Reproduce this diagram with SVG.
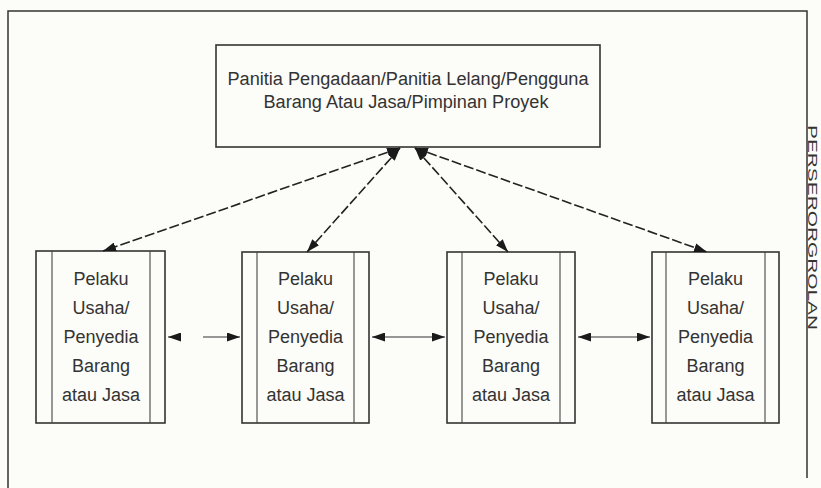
<svg xmlns="http://www.w3.org/2000/svg" width="821" height="488" viewBox="0 0 821 488">
<defs>
<marker id="ah" viewBox="0 0 13 9" refX="13" refY="4.5" markerWidth="13" markerHeight="9" markerUnits="userSpaceOnUse" orient="auto-start-reverse">
<path d="M0,0 L13,4.5 L0,9 Z" fill="#1a1a1a"/>
</marker>
</defs>
<style>
.frame{fill:none;stroke:#333;stroke-width:1.5}
.box{fill:none;stroke:#333;stroke-width:1.6}
.inner{stroke:#444;stroke-width:1.1}
.t{font-family:"Liberation Sans",Arial,sans-serif;font-size:18px;fill:#333;text-anchor:middle}
.side{font-family:"Liberation Sans",Arial,sans-serif;font-size:13px;fill:#333}
.dash{fill:none;stroke:#222;stroke-width:1.6;stroke-dasharray:10 3}
.hl{fill:none;stroke:#333;stroke-width:1}
</style>
<rect width="821" height="488" fill="#fcfcf8"/>
<g id="frame">
<path class="frame" d="M8,488 L8,11 L807,11 L807,478"/>
<text class="side" transform="translate(808,125) rotate(90)" textLength="205" lengthAdjust="spacingAndGlyphs">PERSERORGROLAN</text>
</g>
<g id="top">
<rect class="box" x="216" y="45" width="384" height="102"/>
<text class="t" x="408" y="85" textLength="361" lengthAdjust="spacingAndGlyphs">Panitia Pengadaan/Panitia Lelang/Pengguna</text>
<text class="t" x="406" y="108" textLength="285" lengthAdjust="spacingAndGlyphs">Barang Atau Jasa/Pimpinan Proyek</text>
</g>
<g id="p1">
<rect class="box" x="36" y="251" width="129" height="172"/>
<line class="inner" x1="52" y1="251" x2="52" y2="423"/>
<line class="inner" x1="150" y1="251" x2="150" y2="423"/>
<text class="t"><tspan x="101" y="285">Pelaku</tspan><tspan x="101" y="314">Usaha/</tspan><tspan x="101" y="343">Penyedia</tspan><tspan x="101" y="372">Barang</tspan><tspan x="101" y="401">atau Jasa</tspan></text>
</g>
<g id="p2">
<rect class="box" x="242" y="252" width="127" height="171"/>
<line class="inner" x1="257" y1="252" x2="257" y2="423"/>
<line class="inner" x1="354" y1="252" x2="354" y2="423"/>
<text class="t"><tspan x="305.5" y="285">Pelaku</tspan><tspan x="305.5" y="314">Usaha/</tspan><tspan x="305.5" y="343">Penyedia</tspan><tspan x="305.5" y="372">Barang</tspan><tspan x="305.5" y="401">atau Jasa</tspan></text>
</g>
<g id="p3">
<rect class="box" x="447" y="252" width="128" height="171"/>
<line class="inner" x1="462" y1="252" x2="462" y2="423"/>
<line class="inner" x1="560" y1="252" x2="560" y2="423"/>
<text class="t"><tspan x="511" y="285">Pelaku</tspan><tspan x="511" y="314">Usaha/</tspan><tspan x="511" y="343">Penyedia</tspan><tspan x="511" y="372">Barang</tspan><tspan x="511" y="401">atau Jasa</tspan></text>
</g>
<g id="p4">
<rect class="box" x="652" y="252" width="127" height="171"/>
<line class="inner" x1="666" y1="252" x2="666" y2="423"/>
<line class="inner" x1="765" y1="252" x2="765" y2="423"/>
<text class="t"><tspan x="715.5" y="285">Pelaku</tspan><tspan x="715.5" y="314">Usaha/</tspan><tspan x="715.5" y="343">Penyedia</tspan><tspan x="715.5" y="372">Barang</tspan><tspan x="715.5" y="401">atau Jasa</tspan></text>
</g>
<g id="connectors">
<line class="dash" x1="400" y1="148" x2="103" y2="251" marker-start="url(#ah)" marker-end="url(#ah)"/>
<line class="dash" x1="400" y1="148" x2="307" y2="252" marker-start="url(#ah)" marker-end="url(#ah)"/>
<line class="dash" x1="415" y1="148" x2="508" y2="252" marker-start="url(#ah)" marker-end="url(#ah)"/>
<line class="dash" x1="415" y1="148" x2="707" y2="252" marker-start="url(#ah)" marker-end="url(#ah)"/>
<line class="hl" x1="181" y1="337" x2="168" y2="337" marker-end="url(#ah)"/>
<line class="hl" x1="203" y1="337" x2="240" y2="337" marker-end="url(#ah)"/>
<line class="hl" x1="372" y1="337" x2="445" y2="337" marker-start="url(#ah)" marker-end="url(#ah)"/>
<line class="hl" x1="578" y1="337" x2="650" y2="337" marker-start="url(#ah)" marker-end="url(#ah)"/>
</g>
</svg>
